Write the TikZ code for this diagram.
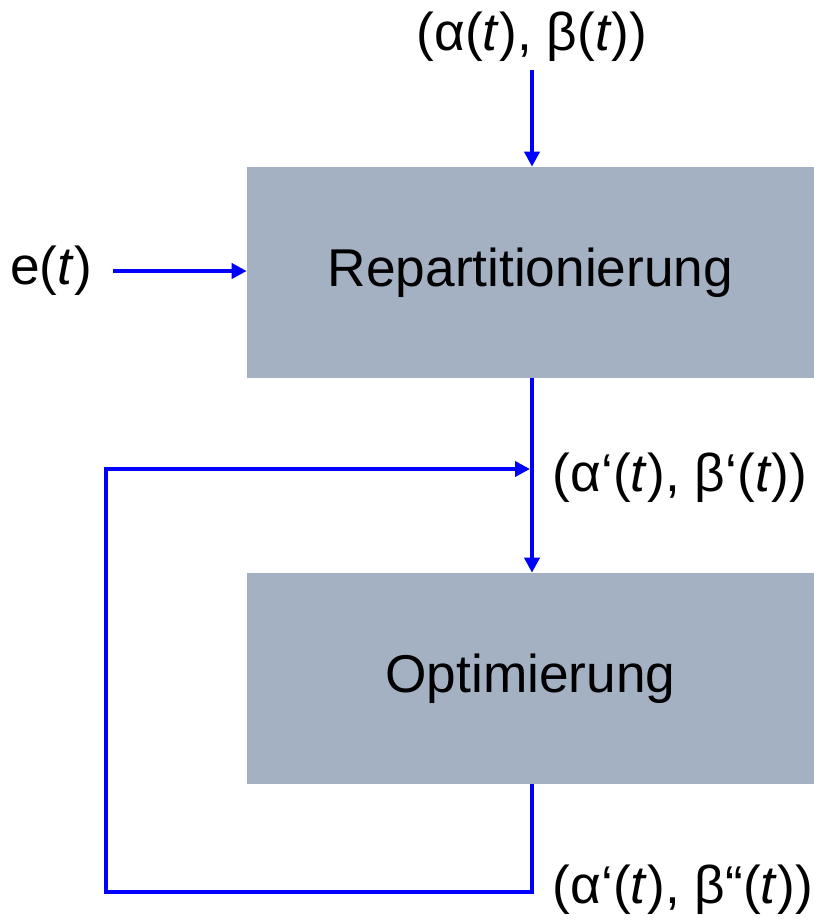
\documentclass[tikz,border=0pt]{standalone}
\usepackage{fontspec}
\setmainfont{Liberation Sans}
\usetikzlibrary{arrows.meta}

\definecolor{boxgray}{RGB}{163,177,194}

\tikzset{
  block/.style={fill=boxgray, minimum width=11.34cm, minimum height=4.22cm, inner sep=0pt},
  flow/.style={blue, line width=2.6pt, -{Triangle[length=0.3cm,width=0.3cm]}},
  label/.style={font=\fontsize{30.3}{36}\selectfont, inner sep=2pt}
}

\begin{document}
\begin{tikzpicture}[x=0.02cm, y=-0.02cm]
  \useasboundingbox (0,0) rectangle (814,924);

  % the two blocks
  \node[block] (repart) at (530.5,272.5) {};
  \node[label] at (repart.center) {Repartitionierung};
  \node[block] (optim) at (530.5,678.5) {};
  \node[label] at (optim.center) {Optimierung};

  % signals
  \node[label] (ab) at (532,37) {(α(\textit{t}), β(\textit{t}))};
  \node[label] (et) at (51,271) {e(\textit{t})};
  \node[label, anchor=west] (ab1) at (549,478) {(α‘(\textit{t}), β‘(\textit{t}))};
  \node[label, anchor=west] (ab2) at (549,890) {(α‘(\textit{t}), β“(\textit{t}))};

  % vertical signal line and corners of the feedback loop
  \coordinate (axis) at (532,0);
  \coordinate (fbr) at (532,892);
  \coordinate (fbl) at (106,892);
  \coordinate (fbj) at (530,469);

  % inputs
  \draw[flow] (axis |- 0,70) -- (repart.north -| axis);
  \draw[flow] (113,271) -- (repart.west |- 0,271);

  % between the blocks
  \draw[flow] (repart.south -| axis) -- (optim.north -| axis);

  % feedback
  \draw[flow] (optim.south -| axis) -- (fbr) -- (fbl) |- (fbj);
\end{tikzpicture}
\end{document}
